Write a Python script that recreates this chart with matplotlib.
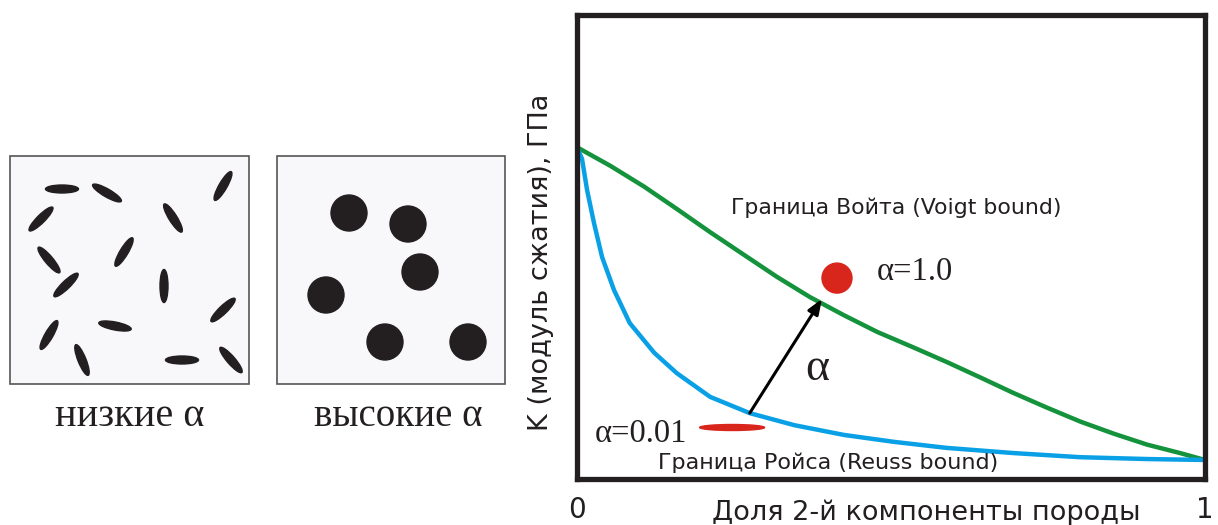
import numpy as np
import matplotlib.pyplot as plt
from matplotlib.patches import Ellipse, Circle, Rectangle

# данные кривых (доля 2-й компоненты, модуль в долях оси)
voigt_x = [0.0, 0.053, 0.107, 0.159, 0.212, 0.266, 0.318, 0.371, 0.425, 0.478,
           0.535, 0.589, 0.642, 0.694, 0.748, 0.801, 0.854, 0.908, 0.960, 1.0]
voigt_y = [0.715, 0.675, 0.630, 0.582, 0.532, 0.483, 0.436, 0.392, 0.353, 0.317,
           0.284, 0.252, 0.219, 0.186, 0.154, 0.124, 0.098, 0.074, 0.056, 0.041]
reuss_x = [0.0, 0.008, 0.016, 0.027, 0.040, 0.059, 0.084, 0.123, 0.159, 0.212,
           0.275, 0.346, 0.425, 0.505, 0.589, 0.694, 0.801, 0.908, 1.0]
reuss_y = [0.715, 0.690, 0.623, 0.552, 0.478, 0.407, 0.336, 0.272, 0.228, 0.177,
           0.142, 0.116, 0.095, 0.080, 0.067, 0.056, 0.047, 0.043, 0.041]

# включения (пиксели картинки)
ell_x = [62, 107, 41, 223, 173, 49, 124, 66, 164, 223, 49, 115, 82, 182, 231]
ell_y = [189, 193, 219, 186, 218, 260, 252, 285, 286, 310, 335, 326, 360, 360, 360]
ell_ang = [0, -30, 45, 60, -58, -50, 59, 44, 90, 44, 60, -11, -68, 0, -49]
pore_x = [349, 408, 420, 326, 385, 468]
pore_y = [213, 224, 272, 295, 342, 342]

black = '#231f20'
green = '#14923c'
blue = '#0aa0e6'
red = '#d9261c'

fig = plt.figure(figsize=(12.18, 5.25), dpi=100)

# левая часть: два квадрата с включениями
ax0 = fig.add_axes([0, 0, 1, 1])
ax0.set_xlim(0, 1218)
ax0.set_ylim(525, 0)
ax0.axis('off')
for x0, x1 in [(10, 249), (277, 505)]:
    ax0.add_patch(Rectangle((x0, 156), x1 - x0, 228, facecolor='#f8f8fa',
                            edgecolor='#555555', linewidth=1.2))
for x, y, a in zip(ell_x, ell_y, ell_ang):
    ax0.add_patch(Ellipse((x, y), 33, 8, angle=-a, color=black))
for x, y in zip(pore_x, pore_y):
    ax0.add_patch(Circle((x, y), 18, color=black))
ax0.text(130, 416, 'низкие α', family='Liberation Serif', fontsize=29,
         ha='center', va='center', color=black)
ax0.text(398, 416, 'высокие α', family='Liberation Serif', fontsize=28,
         ha='center', va='center', color=black)

# правая часть: границы Войта и Ройса
ax = fig.add_axes([577 / 1218, 46 / 525, 628 / 1218, 464 / 525])
ax.set_xlim(0, 1)
ax.set_ylim(0, 1)
for s in ax.spines.values():
    s.set_linewidth(3.8)
    s.set_color(black)
ax.set_yticks([])
ax.set_xticks([0, 1])
ax.set_xticklabels(['0', '1'], fontsize=20)
ax.tick_params(axis='x', length=0, pad=12, colors=black)

ax.plot(voigt_x, voigt_y, color=green, linewidth=3.2,
        solid_capstyle='round', solid_joinstyle='round')
ax.plot(reuss_x, reuss_y, color=blue, linewidth=3.2,
        solid_capstyle='round', solid_joinstyle='round')

ax.annotate('', xy=(0.390, 0.388), xytext=(0.275, 0.142),
            arrowprops=dict(arrowstyle='-|>,head_length=0.9,head_width=0.35',
                            color='black', lw=2.2, shrinkA=0, shrinkB=0))
ax.text(0.382, 0.238, 'α', family='Liberation Serif', fontsize=33,
        ha='center', va='center', color=black)

ax.add_patch(Ellipse((0.414, 0.433), 30 / 628, 30 / 464, color=red))
ax.text(0.478, 0.447, 'α=1.0', family='Liberation Serif', fontsize=23.5,
        ha='left', va='center', color=black)
ax.add_patch(Ellipse((0.247, 0.111), 65 / 628, 6 / 464, color=red))
ax.text(0.029, 0.098, 'α=0.01', family='Liberation Serif', fontsize=23.5,
        ha='left', va='center', color=black)

ax.text(0.246, 0.584, 'Граница Войта (Voigt bound)', fontsize=15.8,
        ha='left', va='center', color=black)
ax.text(0.129, 0.035, 'Граница Ройса (Reuss bound)', fontsize=16,
        ha='left', va='center', color=black)

ax.set_ylabel('K (модуль сжатия), ГПа', fontsize=19.5, color=black)
ax.yaxis.set_label_coords(-0.036, 0.468)
ax.set_xlabel('Доля 2-й компоненты породы', fontsize=19.5, color=black)
ax.xaxis.set_label_coords(0.556, -0.045)

fig.savefig('out.png', dpi=100)
